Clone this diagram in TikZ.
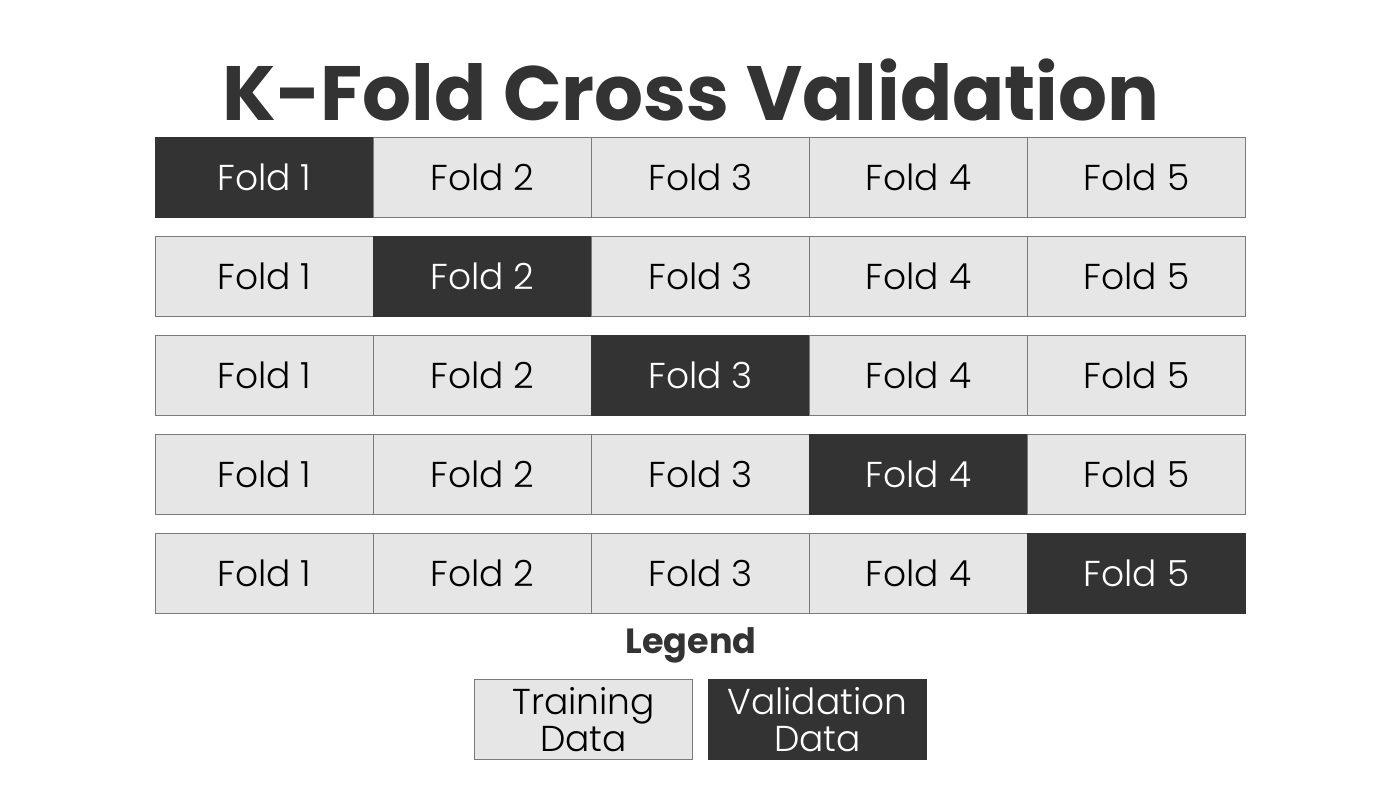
\documentclass[tikz,border=0pt]{standalone}
\usepackage{fontspec}
\setmainfont{Poppins}
\newfontfamily\lightfont{Poppins Light}
\definecolor{darkfill}{HTML}{333333}
\definecolor{lightfill}{HTML}{E6E6E6}
\definecolor{edge}{HTML}{7A7A7A}
\begin{document}
\begin{tikzpicture}[x=1pt,y=-1pt,
  cell/.style={draw=edge,line width=1pt,minimum width=218pt,minimum height=80pt,inner sep=0pt,anchor=north west,font=\lightfont\fontsize{36}{40}\selectfont},
  train/.style={cell,fill=lightfill,text=black},
  valid/.style={cell,fill=darkfill,draw=darkfill,text=white},
  legbox/.style={cell,minimum width=217pt,align=center,font=\lightfont\fontsize{37}{37}\selectfont}
]
\useasboundingbox (0,0) rectangle (1400,800);
\node[font=\bfseries\fontsize{77}{88}\selectfont,text=darkfill] (title) at (691,90) {K-Fold Cross Validation};
\foreach \r in {1,...,5}{
  \foreach \c in {1,...,5}{
    \pgfmathsetmacro{\xx}{155+218*(\c-1)}
    \pgfmathsetmacro{\yy}{137+99*(\r-1)}
    \ifnum\r=\c
      \node[valid] (f\r\c) at (\xx,\yy) {Fold \c};
    \else
      \node[train] (f\r\c) at (\xx,\yy) {Fold \c};
    \fi
  }
}
\node[font=\bfseries\fontsize{35}{38}\selectfont,text=darkfill] (legend) at (691,645) {Legend};
\node[legbox,train] (ltrain) at (474,679) {Training\\[-3pt]Data};
\node[legbox,valid] (lvalid) at (708,679) {Validation\\[-3pt]Data};
\end{tikzpicture}
\end{document}
